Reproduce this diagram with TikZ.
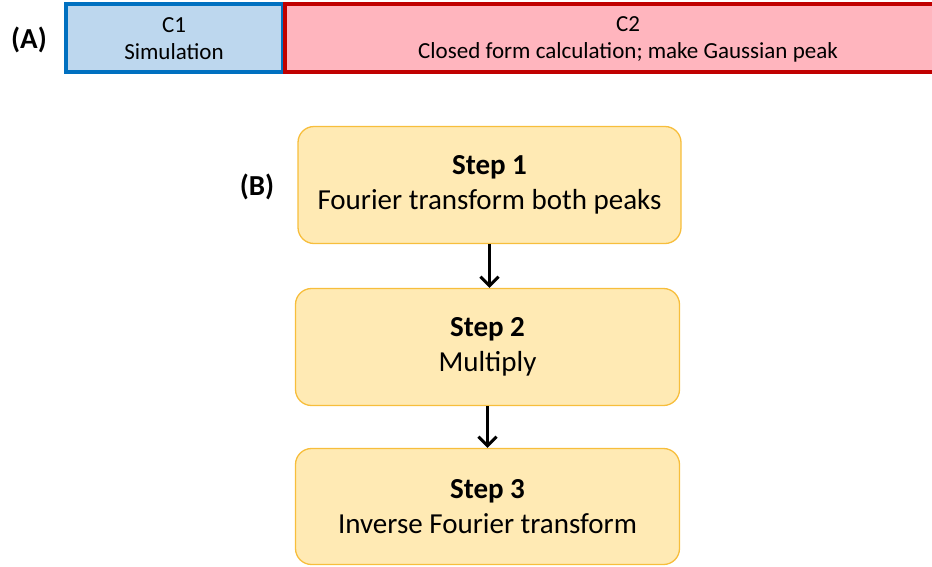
\documentclass[tikz,border=0pt]{standalone}
\usepackage{fontspec}
\setmainfont{Carlito}
\usetikzlibrary{arrows.meta}
\definecolor{cblue}{RGB}{0,112,192}
\definecolor{cbluefill}{RGB}{189,215,238}
\definecolor{cred}{RGB}{192,0,0}
\definecolor{credfill}{RGB}{255,181,190}
\definecolor{stepfill}{RGB}{255,234,180}
\definecolor{stepline}{RGB}{247,190,60}
\tikzset{
  px/.style={x=1pt,y=-1pt},
  barbox/.style={draw, line width=4pt},
  bartext/.style={font=\fontsize{23}{27}\selectfont, align=center, inner sep=0pt},
  stepbox/.style={draw=stepline, fill=stepfill, line width=1.3pt, rounded corners=16pt,
    align=center, font=\fontsize{29}{35}\selectfont, inner sep=0pt},
  panel/.style={font=\fontsize{29}{30}\selectfont\bfseries},
  flow/.style={line width=3pt, -{Straight Barb[length=9pt,width=18pt,line width=3pt]}}
}
\begin{document}
\begin{tikzpicture}[px]
\useasboundingbox (0,0) rectangle (932,566);
\clip (0,0) rectangle (932,566);
% top bar: two coloured segments
\draw[barbox, draw=cblue, fill=cbluefill] (66,4) rectangle (283,72);
\draw[barbox, draw=cred, fill=credfill] (285,4) rectangle (940,72);
\node[bartext] (c1) at (174,39) {C1\\Simulation};
\node[bartext] (c2) at (628,39) {C2\\Closed form calculation; make Gaussian peak};
\node[panel] (labA) at (29,40) {(A)};
% flow chart
\node[panel] (labB) at (257,187) {(B)};
\node[stepbox, minimum width=383pt, minimum height=117pt] (s1) at (489.5,185)
  {\textbf{Step 1}\\Fourier transform both peaks};
\node[stepbox, minimum width=384pt, minimum height=117pt] (s2) at (487.5,347)
  {\textbf{Step 2}\\Multiply};
\node[stepbox, minimum width=384pt, minimum height=116pt] (s3) at (487.5,506.5)
  {\textbf{Step 3}\\Inverse Fourier transform};
\draw[flow] (s1.south) -- (s1.south |- s2.north);
\draw[flow] (s2.south) -- (s2.south |- s3.north);
\end{tikzpicture}
\end{document}
